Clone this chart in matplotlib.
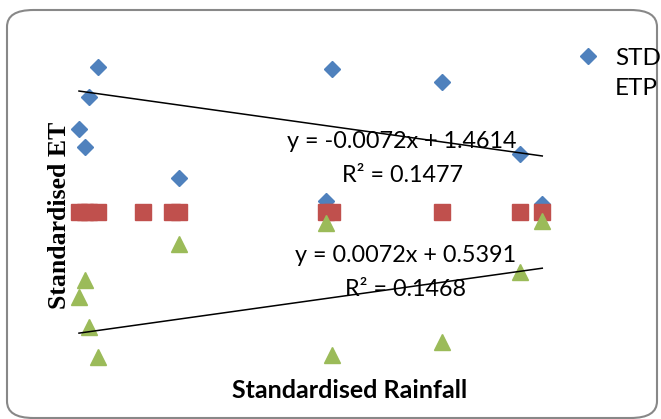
import matplotlib.pyplot as plt
from matplotlib.lines import Line2D
from matplotlib.patches import FancyBboxPatch

# rainfall (x) and standardised ET (y)
std_x = [7.39, 6.76, 6.09, 6.49, 12.80, 23.05, 30.43, 35.68, 22.64, 37.18]
std_y = [1.500, 1.396, 1.287, 1.224, 1.119, 1.494, 1.448, 1.201, 1.040, 1.028]

etp_x = [6.09, 6.49, 6.76, 7.39, 10.39, 12.33, 12.80, 22.64, 23.05, 30.43, 35.68, 37.18]
etp_y = [1.0] * 12

low_x = [7.39, 6.76, 6.09, 6.49, 12.80, 23.05, 30.43, 35.68, 22.64, 37.18]
low_y = [0.501, 0.604, 0.709, 0.766, 0.890, 0.508, 0.553, 0.794, 0.964, 0.970]

# trend lines as printed on the chart
fit_top = (-0.0072, 1.4614, 0.1477)
fit_low = (0.0072, 0.5391, 0.1468)

blue = '#4F81BD'
red = '#C0504D'
green = '#9BBB59'

fig = plt.figure(figsize=(6.61, 4.19), dpi=100)

frame = FancyBboxPatch((7 / 661, 1 / 419), 650 / 661, 408 / 419,
                       boxstyle='round,pad=0,rounding_size=0.04',
                       transform=fig.transFigure, fill=False,
                       edgecolor='#888888', linewidth=1.5)
fig.patches.append(frame)

ax = fig.add_axes([50 / 661, 1 - 375 / 419, 510 / 661, 345 / 419])
ax.set_xlim(4.145, 38.37)
ax.set_ylim(0.4386, 1.628)
ax.axis('off')

ax.plot(std_x, std_y, 'D', color=blue, markersize=7.8, zorder=3)
ax.plot(etp_x, etp_y, 's', color=red, markersize=11, zorder=4)
ax.plot(low_x, low_y, '^', color=green, markersize=11, zorder=5)

x0, x1 = min(std_x), max(std_x)
for m, b, r2 in (fit_top, fit_low):
    ax.plot([x0, x1], [m * x0 + b, m * x1 + b], color='black', lw=1.1, zorder=6)

eq_font = dict(family='Lato', fontsize=16.8, ha='center', va='center', zorder=7)
ax.text(27.76, 1.243, 'y = -0.0072x + 1.4614', **eq_font)
ax.text(27.81, 1.126, 'R² = 0.1477', **eq_font)
ax.text(28.03, 0.851, 'y = 0.0072x + 0.5391', **eq_font)
ax.text(27.97, 0.733, 'R² = 0.1468', **eq_font)

fig.text(350 / 661, 1 - 391 / 419, 'Standardised Rainfall', family='Lato',
         fontweight='bold', fontsize=18, ha='center', va='center')
fig.text(60 / 661, 1 - 215 / 419, 'Standardised ET', family='Liberation Serif',
         fontweight='bold', fontsize=18.5, rotation=90, ha='center', va='center')

handles = [Line2D([], [], ls='none', marker='D', color=blue, markersize=7.8),
           Line2D([], [], ls='none')]
fig.legend(handles, ['STD', 'ETP'], loc='upper left',
           bbox_to_anchor=(569 / 661, 1 - 38 / 419), frameon=False,
           prop={'family': 'Lato', 'size': 17.5}, handlelength=0.8,
           handletextpad=0.7, labelspacing=0.38, borderaxespad=0)

fig.savefig('out.png', dpi=100)
